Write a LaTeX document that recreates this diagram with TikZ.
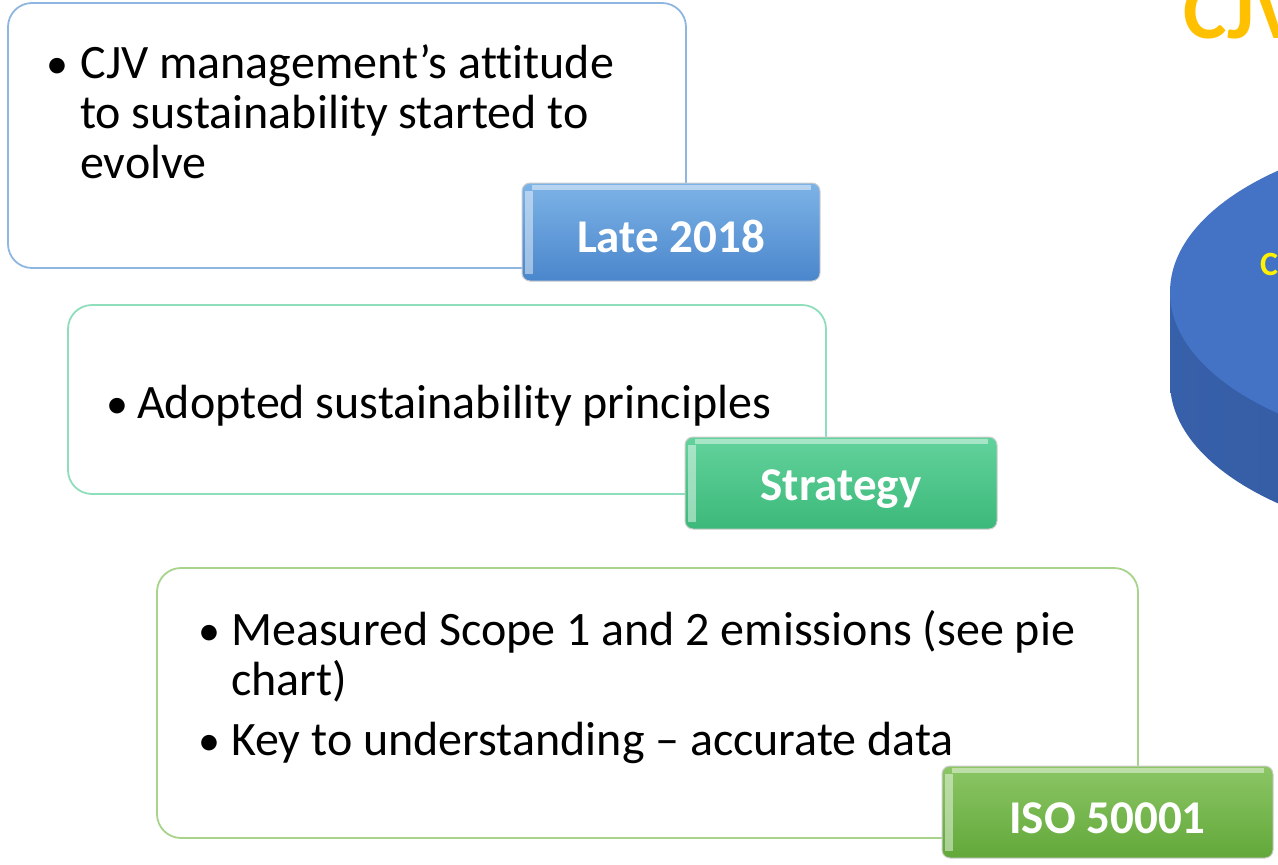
\documentclass[tikz,border=0pt]{standalone}
\usepackage{fontspec}
\setmainfont[Ligatures={NoCommon}]{Carlito}
\definecolor{bluestroke}{HTML}{8FB6E0}
\definecolor{tealstroke}{HTML}{8EDDBB}
\definecolor{greenstroke}{HTML}{A8D38A}
\definecolor{tabbluetop}{HTML}{7DB3E6}
\definecolor{tabbluebot}{HTML}{4A86CC}
\definecolor{tabtealtop}{HTML}{62D29C}
\definecolor{tabtealbot}{HTML}{3CB97A}
\definecolor{tabgreentop}{HTML}{8CC665}
\definecolor{tabgreenbot}{HTML}{62A83A}
\definecolor{gold}{HTML}{FFC000}
\definecolor{pietop}{HTML}{4472C4}
\definecolor{pieside}{HTML}{3760AA}
\definecolor{piesidedark}{HTML}{2F5597}
\begin{document}
\begin{tikzpicture}[x=1pt,y=-1pt,
  panel/.style={draw, line width=1.8pt, rounded corners=24pt, fill=white, inner sep=0pt},
  tabbox/.style={rounded corners=8pt, draw=white!80!black, line width=1pt, inner sep=0pt},
  tablabel/.style={inner sep=0pt, text=white, font=\bfseries\fontsize{47}{47}\selectfont},
  line/.style={anchor=base west, inner sep=0pt, font=\fontsize{48}{48}\selectfont},
  bul/.style={anchor=base west, inner sep=0pt, font=\fontsize{44}{44}\selectfont},
  bevel/.style={fill=white, opacity=0.45}]
\useasboundingbox (0,0) rectangle (1278,865);
\begin{scope}
\clip (0,0) rectangle (1278,865);
% pie chart (cut off at right)
\path[left color=pieside, right color=piesidedark] (1170,292) rectangle (1810,382);
\path[left color=pieside, right color=piesidedark] (1490,382) ellipse [x radius=320, y radius=162];
\fill[pietop] (1490,292) ellipse [x radius=320, y radius=162];
\node[text=yellow, font=\bfseries\fontsize{34}{34}\selectfont, anchor=base west, inner sep=0pt] (pielabel) at (1260,275) {C};
% title (cut off)
\node[text=gold, font=\bfseries\fontsize{82}{82}\selectfont, anchor=base west, inner sep=0pt] (title) at (1183,38) {CJV};
\end{scope}

% panel 1
\node[panel, draw=bluestroke, minimum width=678pt, minimum height=265pt] (p1) at (347,135.5) {};
\node[bul] (b1) at (46,78) {•};
\node[line] (l1a) at (80,78) {CJV management’s attitude};
\node[line] (l1b) at (80,128) {to sustainability started to};
\node[line] (l1c) at (80,178) {evolve};
\node[tabbox, top color=tabbluetop, bottom color=tabbluebot, minimum width=298pt, minimum height=98pt] (t1) at (671,232) {};
\fill[bevel] ([xshift=3pt,yshift=-8pt]t1.north west) rectangle ([xshift=11pt,yshift=8pt]t1.south west);
\fill[bevel] ([xshift=10pt,yshift=-2pt]t1.north west) rectangle ([xshift=-10pt,yshift=-7pt]t1.north east);
\node[tablabel] (t1l) at ([yshift=-4pt]t1.center) {Late 2018};

% panel 2
\node[panel, draw=tealstroke, minimum width=758pt, minimum height=189pt] (p2) at (447,399.5) {};
\node[bul] (b2) at (106,418) {•};
\node[line] (l2a) at (137,418) {Adopted sustainability principles};
\node[tabbox, top color=tabtealtop, bottom color=tabtealbot, minimum width=312pt, minimum height=92pt] (t2) at (841,483) {};
\fill[bevel] ([xshift=3pt,yshift=-8pt]t2.north west) rectangle ([xshift=11pt,yshift=8pt]t2.south west);
\fill[bevel] ([xshift=10pt,yshift=-2pt]t2.north west) rectangle ([xshift=-10pt,yshift=-7pt]t2.north east);
\node[tablabel] (t2l) at ([yshift=-6pt]t2.center) {Strategy};

% panel 3
\node[panel, draw=greenstroke, minimum width=981pt, minimum height=270pt] (p3) at (647.5,703) {};
\node[bul] (b3a) at (198,645) {•};
\node[line] (l3a) at (231,645) {Measured Scope 1 and 2 emissions (see pie};
\node[line] (l3b) at (231,695) {chart)};
\node[bul] (b3b) at (198,755) {•};
\node[line] (l3c) at (231,755) {Key to understanding – accurate data};
\node[tabbox, top color=tabgreentop, bottom color=tabgreenbot, minimum width=331pt, minimum height=92pt] (t3) at (1107.5,812) {};
\fill[bevel] ([xshift=3pt,yshift=-8pt]t3.north west) rectangle ([xshift=11pt,yshift=8pt]t3.south west);
\fill[bevel] ([xshift=10pt,yshift=-2pt]t3.north west) rectangle ([xshift=-10pt,yshift=-7pt]t3.north east);
\node[tablabel] (t3l) at ([yshift=-6pt]t3.center) {ISO 50001};
\end{tikzpicture}
\end{document}
